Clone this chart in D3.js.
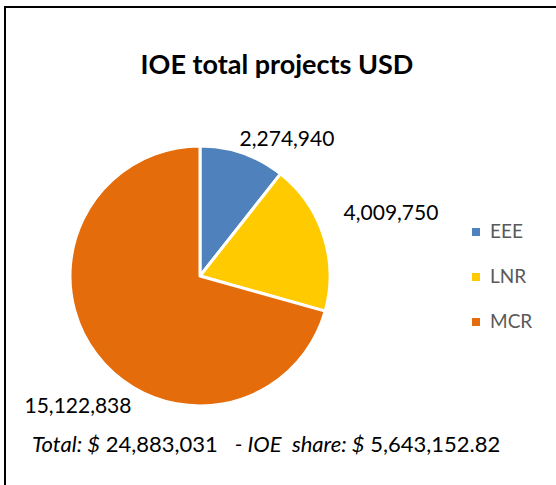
<!DOCTYPE html>
<html>
<head>
<meta charset="utf-8">
<script src="https://cdn.jsdelivr.net/npm/d3@7"></script>
<style>
  html, body { margin: 0; padding: 0; background: #fff; }
  svg { display: block; }
</style>
</head>
<body>
<div id="chart"></div>
<script>
const categories = ['EEE', 'LNR', 'MCR'];
const values = [2274940, 4009750, 15122838];
const colors = ['#4f81bd', '#ffca00', '#e46c0a'];
const titleText = 'IOE total projects USD';
const totalAmount = '24,883,031';
const ioeShare = '5,643,152.82';

const width = 556, height = 485;
const font = 'Lato, "Open Sans", sans-serif';

const svg = d3.select('#chart').append('svg')
  .attr('width', width)
  .attr('height', height);

svg.append('rect')
  .attr('width', width).attr('height', height)
  .attr('fill', '#fff');

// chart frame (runs off the right/bottom edge)
svg.append('rect')
  .attr('x', 5).attr('y', 7)
  .attr('width', width + 10).attr('height', height + 10)
  .attr('fill', 'none')
  .attr('stroke', '#000')
  .attr('stroke-width', 2);

svg.append('text')
  .attr('x', 277).attr('y', 74)
  .attr('text-anchor', 'middle')
  .style('font-family', font)
  .style('font-size', '27px')
  .style('font-weight', '700')
  .style('fill', '#000')
  .text(titleText);

const cx = 200, cy = 276, radius = 130;
const data = categories.map((c, i) => ({ name: c, value: values[i] }));

const pie = d3.pie().value(d => d.value).sort(null);
const arc = d3.arc().innerRadius(0).outerRadius(radius);

const g = svg.append('g').attr('transform', `translate(${cx},${cy})`);

g.selectAll('path')
  .data(pie(data))
  .enter().append('path')
  .attr('d', arc)
  .attr('fill', (d, i) => colors[i])
  .attr('stroke', '#fff')
  .attr('stroke-width', 3)
  .attr('stroke-linejoin', 'round');

// data labels, placed outside each slice
const labelPos = [[287, 146], [391, 220], [78, 413]];
const fmt = d3.format(',');
svg.selectAll('.lbl')
  .data(values)
  .enter().append('text')
  .attr('class', 'lbl')
  .attr('x', (d, i) => labelPos[i][0])
  .attr('y', (d, i) => labelPos[i][1])
  .attr('text-anchor', 'middle')
  .style('font-family', font)
  .style('font-size', '21px')
  .style('fill', '#000')
  .text(d => fmt(d));

// legend
const legend = svg.append('g').attr('transform', 'translate(472,228)');
categories.forEach((c, i) => {
  const row = legend.append('g').attr('transform', `translate(0,${i * 45})`);
  row.append('rect').attr('width', 8).attr('height', 8).attr('fill', colors[i]);
  row.append('text')
    .attr('x', 18).attr('y', 10)
    .style('font-family', font)
    .style('font-size', '19px')
    .style('fill', '#595959')
    .text(c);
});

// footer note
const note = svg.append('text')
  .attr('x', 32).attr('y', 452)
  .style('font-family', font)
  .style('font-size', '22px')
  .style('fill', '#000')
  .attr('xml:space', 'preserve');
note.append('tspan').style('font-style', 'italic').text('Total: $');
note.append('tspan').text(' ' + totalAmount + '   ');
note.append('tspan').style('font-style', 'italic').text('- IOE  share: $');
note.append('tspan').text(' ' + ioeShare);
</script>
</body>
</html>
